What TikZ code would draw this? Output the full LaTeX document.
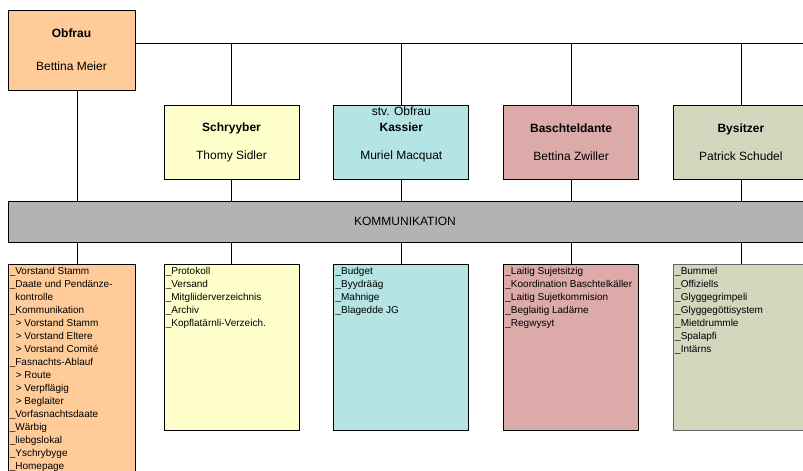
\documentclass[tikz,border=0pt]{standalone}
\usepackage{fontspec}
\setmainfont{Liberation Sans}
\usetikzlibrary{positioning}
\definecolor{peach}{HTML}{FFCC99}
\definecolor{paleyellow}{HTML}{FFFFCC}
\definecolor{palecyan}{HTML}{B4E4E4}
\definecolor{dustypink}{HTML}{DDAAAA}
\definecolor{paleolive}{HTML}{D4D6BE}
\definecolor{bargray}{HTML}{B3B3B3}
\tikzstyle{headbox} = [rectangle, draw=black, line width=0.8pt, minimum width=135pt, minimum height=74pt, inner sep=0pt, align=center, font=\fontsize{12}{14}\selectfont]
\tikzstyle{listbox} = [rectangle, draw=black, line width=0.8pt, minimum width=135pt, minimum height=166pt, inner sep=0pt]
\tikzstyle{listtext} = [anchor=north west, align=left, inner sep=0pt, font=\fontsize{10}{13}\selectfont]
\tikzstyle{line} = [draw=black, line width=0.8pt]

\begin{document}
\begin{tikzpicture}[node distance=34pt]
        \useasboundingbox (0,0) rectangle (803pt,-471pt);
        \clip (0,0) rectangle (803pt,-471pt);

        \node (obfrau) [headbox, minimum width=127pt, minimum height=80pt, fill=peach] at (71.5pt,-50pt) {
            \textbf{Obfrau}\\[19pt]Bettina Meier
        };

        \node (schryyber) [headbox, fill=paleyellow] at (231.5pt,-142pt) {
            \textbf{Schryyber}\\[14pt]Thomy Sidler
        };

        \node (kassier) [headbox, right=of schryyber, fill=palecyan] {
            \textbf{Kassier}\\[14pt]Muriel Macquat
        };
        \node (stv) [below=2pt of kassier.north, inner sep=0pt, font=\fontsize{12}{14}\selectfont] {stv. Obfrau};

        \node (baschtel) [headbox, right=of kassier, fill=dustypink] {
            \textbf{Baschteldante}\\[14pt]Bettina Zwiller
        };

        \node (bysitzer) [headbox, right=of baschtel, fill=paleolive] {
            \textbf{Bysitzer}\\[14pt]Patrick Schudel
        };

        % task lists
        \node (obfrau-list) [listbox, below=174pt of obfrau, minimum width=127pt, minimum height=216pt, fill=peach] {};
        \node (schryyber-list) [listbox, below=85pt of schryyber, fill=paleyellow] {};
        \node (kassier-list) [listbox, below=85pt of kassier, fill=palecyan] {};
        \node (baschtel-list) [listbox, below=85pt of baschtel, fill=dustypink] {};
        \node (bysitzer-list) [listbox, below=85pt of bysitzer, draw=black!60, fill=paleolive] {};

        \node (obfrau-tasks) [listtext] at ([xshift=2pt, yshift=-3pt]obfrau-list.north west) {
            \_Vorstand Stamm\\
            \_Daate und Pendänze-\\
            \phantom{\_}kontrolle\\
            \_Kommunikation\\
            \hspace*{6pt}> Vorstand Stamm\\
            \hspace*{6pt}> Vorstand Eltere\\
            \hspace*{6pt}> Vorstand Comité\\
            \_Fasnachts-Ablauf\\
            \hspace*{6pt}> Route\\
            \hspace*{6pt}> Verpflägig\\
            \hspace*{6pt}> Beglaiter\\
            \_Vorfasnachtsdaate\\
            \_Wärbig\\
            \_liebgslokal\\
            \_Yschrybyge\\
            \_Homepage
        };
        \node (schryyber-tasks) [listtext] at ([xshift=2pt, yshift=-3pt]schryyber-list.north west) {
            \_Protokoll\\
            \_Versand\\
            \_Mitgliiderverzeichnis\\
            \_Archiv\\
            \_Kopflatärnli-Verzeich.
        };
        \node (kassier-tasks) [listtext] at ([xshift=2pt, yshift=-3pt]kassier-list.north west) {
            \_Budget\\
            \_Byydrääg\\
            \_Mahnige\\
            \_Blagedde JG
        };
        \node (baschtel-tasks) [listtext] at ([xshift=2pt, yshift=-3pt]baschtel-list.north west) {
            \_Laitig Sujetsitzig\\
            \_Koordination Baschtelkäller\\
            \_Laitig Sujetkommision\\
            \_Beglaitig Ladärne\\
            \_Regwysyt
        };
        \node (bysitzer-tasks) [listtext] at ([xshift=2pt, yshift=-3pt]bysitzer-list.north west) {
            \_Bummel\\
            \_Offiziells\\
            \_Glyggegrimpeli\\
            \_Glyggegöttisystem\\
            \_Mietdrummle\\
            \_Spalapfi\\
            \_Intärns
        };

        % connectors
        \coordinate (topstart) at ([yshift=7pt]obfrau.east);
        \coordinate (topend) at (820pt,-43pt);
        \draw [line] (topstart) -- (topend);
        \draw [line] ([xshift=6pt]obfrau.south) -- ([xshift=6pt]obfrau-list.north);
        \foreach \n in {schryyber, kassier, baschtel, bysitzer} {
            \draw [line] (\n.north |- topend) -- (\n.north);
            \draw [line] (\n) -- (\n-list);
        }

        \node (bar) [rectangle, draw=black, line width=0.8pt, fill=bargray, minimum width=812pt, minimum height=41pt, inner sep=0pt,
            label={[xshift=-9pt, font=\fontsize{12}{14}\selectfont]center:KOMMUNIKATION}] at (414pt,-221.5pt) {};
    \end{tikzpicture}
\end{document}
